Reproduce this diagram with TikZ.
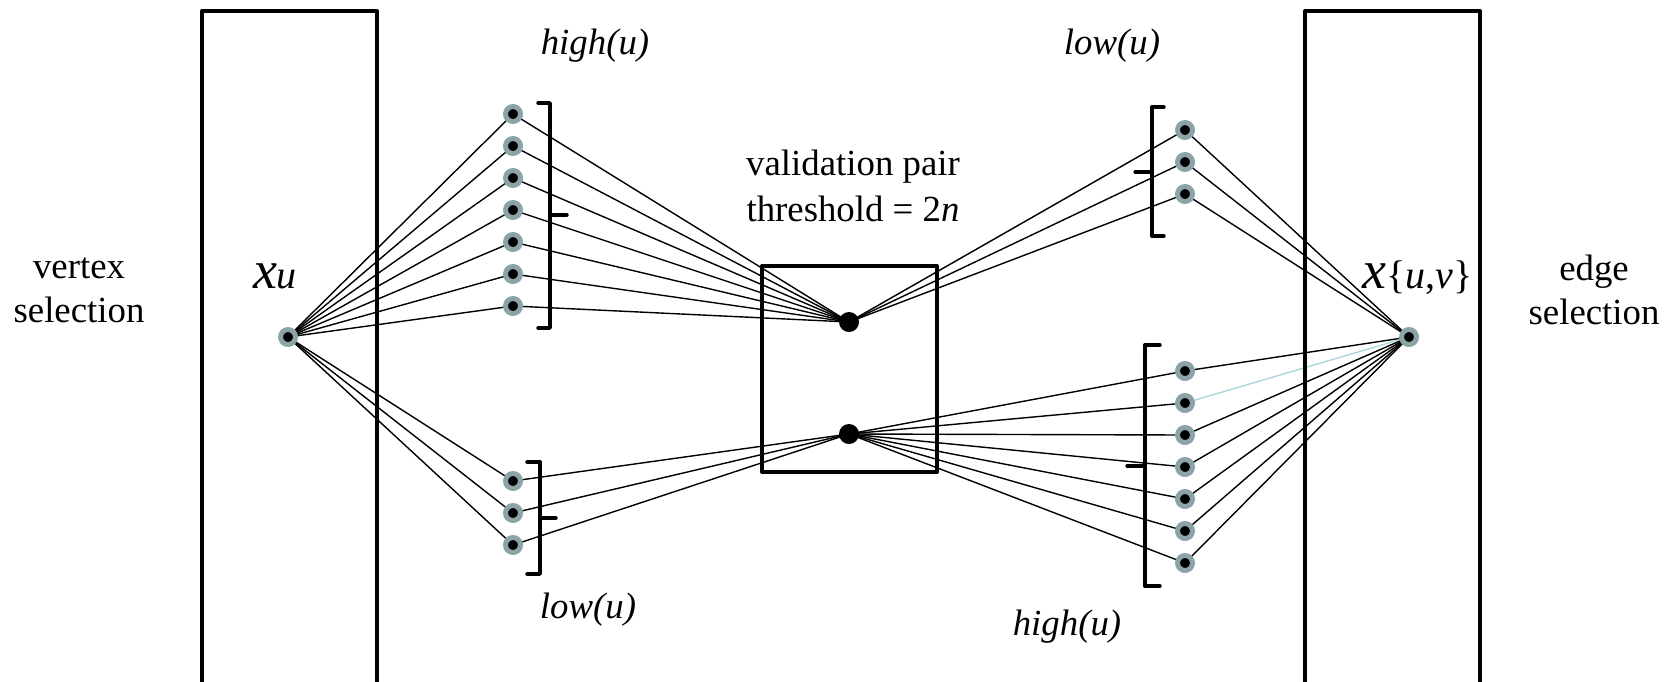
\documentclass[tikz,border=0pt]{standalone}
\usepackage{fontspec}
\setmainfont{Liberation Serif}
\usetikzlibrary{backgrounds}
\definecolor{ringgray}{RGB}{140,164,168}
\definecolor{paleblue}{RGB}{172,214,220}
\begin{document}
\begin{tikzpicture}[x=0.5pt,y=-0.5pt,line join=round,line cap=round]
	\tikzset{every node/.style={font=\fontsize{18.4}{22}\selectfont},
		dot/.style={circle,fill=black,draw=ringgray,line width=2.5pt,inner sep=0pt,minimum size=7.5pt},
		pin/.style={circle,fill=black,inner sep=0pt,minimum size=10pt},
		wire/.style={line width=0.7pt},
		frame/.style={line width=2pt},
		brace/.style={line width=1.7pt}}
	\clip (0,0) rectangle (1675,681);
	\draw[frame] (202,700)--(202,11)--(377,11)--(377,700);
	\draw[frame] (1305,700)--(1305,11)--(1480,11)--(1480,700);
	\draw[frame] (762,266) rectangle (937,472);
	\node[align=center] (vsel) at (79,290) {vertex\\selection};
	\node[align=center] (esel) at (1594,290) {edge\\selection};
	\node[align=center,font=\fontsize{18.4}{23}\selectfont] (vpair) at (853,186) {validation pair\\threshold = 2\textit{n}};
	\node (hiL) at (595,46) {\textit{high(u)}};
	\node (loR) at (1112,46) {\textit{low(u)}};
	\node (loL) at (588,610) {\textit{low(u)}};
	\node (hiR) at (1067,627) {\textit{high(u)}};
	\node[anchor=base,inner sep=0pt] (xulab) at (275,288) {{\fontsize{27}{30}\selectfont\itshape x}{\fontsize{20}{24}\selectfont\itshape u}};
	\node[anchor=base west,inner sep=0pt] (xuvlab) at (1362,288) {{\fontsize{27}{30}\selectfont\itshape x}{\fontsize{20}{24}\selectfont\{\textit{u},\textit{v}\}}};
	\node[dot] (xu) at (288,337) {};
	\node[dot] (xuv) at (1409,337) {};
	\node[pin] (vt) at (849,322) {};
	\node[pin] (vb) at (849,434) {};
	\foreach \i in {1,...,7}
	\node[dot] (hl\i) at (513,{82+32*\i}) {};
	\foreach \i in {1,...,3}
	\node[dot] (ll\i) at (513,{449+32*\i}) {};
	\foreach \i in {1,...,3}
	\node[dot] (lr\i) at (1185,{98+32*\i}) {};
	\foreach \i in {1,...,7}
	\node[dot] (hr\i) at (1185,{339+32*\i}) {};
	\begin{scope}[on background layer]
		\foreach \i in {1,...,7}
		\draw[wire] (xu.center)--(hl\i.center)--(vt.center);
		\foreach \i in {1,...,3}
		\draw[wire] (xu.center)--(ll\i.center)--(vb.center);
		\foreach \i in {1,...,3}
		\draw[wire] (vt.center)--(lr\i.center)--(xuv.center);
		\foreach \i/\c in {1/black,2/paleblue,3/black,4/black,5/black,6/black,7/black}{
			\draw[wire] (vb.center)--(hr\i.center);
			\draw[wire,\c] (hr\i.center)--(xuv.center);}
	\end{scope}
	\draw[brace] (538,103)--(550,103)--(550,328)--(538,328) (550,215)--(567,215);
	\draw[brace] (527,462)--(540,462)--(540,574)--(527,574) (540,518)--(556,518);
	\draw[brace] (1164,107)--(1152,107)--(1152,236)--(1164,236) (1152,172)--(1135,172);
	\draw[brace] (1160,345)--(1145,345)--(1145,586)--(1160,586) (1145,466)--(1127,466);
\end{tikzpicture}
\end{document}
